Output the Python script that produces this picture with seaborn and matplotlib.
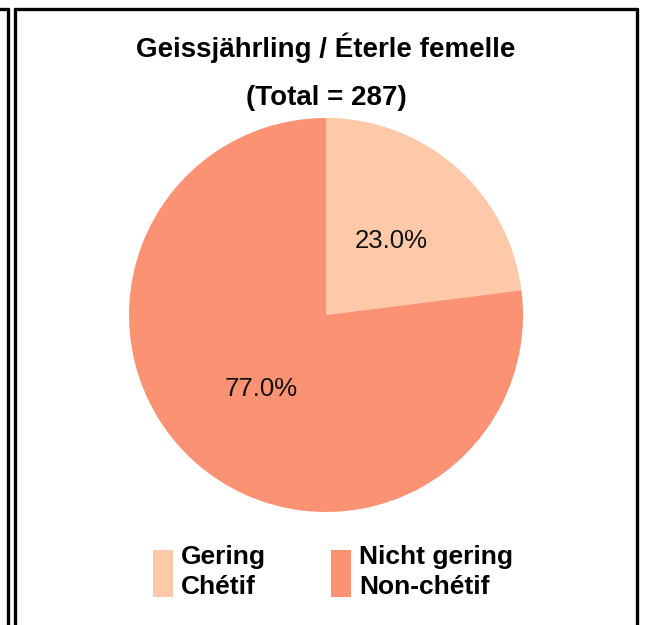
import matplotlib
matplotlib.use('Agg')
import matplotlib.pyplot as plt
import seaborn as sns
from matplotlib.patches import Patch
from matplotlib.lines import Line2D

# 数据
categories = ['Gering\nChétif', 'Nicht gering\nNon-chétif']
shares = [23.0, 77.0]
colors = ['#FDC9A8', '#FC9274']
title_main = 'Geissjährling / Éterle femelle'
title_total = '(Total = 287)'

sns.set_theme(style='white')
plt.rcParams['font.family'] = ['Liberation Sans', 'DejaVu Sans']
plt.rcParams['text.color'] = 'black'

W, H = 646, 625
fig = plt.figure(figsize=(W / 100, H / 100), dpi=100)
fig.patch.set_facecolor('white')

# 饼图
ax = fig.add_axes([129 / W, (H - 512) / H, 394 / W, 394 / H])
ax.pie(shares, colors=colors, startangle=90, counterclock=False,
       autopct='%1.1f%%', pctdistance=0.5,
       textprops={'fontsize': 18.5, 'color': '#111111'},
       wedgeprops={'linewidth': 0})
ax.set_xlim(-1, 1)
ax.set_ylim(-1, 1)
ax.set_aspect('equal')
ax.axis('off')

# 标题
fig.text(326 / W, 1 - 48 / H, title_main, ha='center', va='center',
         fontsize=20, fontweight='bold', color='black')
fig.text(326 / W, 1 - 98 / H, title_total, ha='center', va='center',
         fontsize=20, fontweight='bold', color='black')

# 图例
handles = [Patch(facecolor=c, edgecolor='none') for c in colors]
leg = fig.legend(handles, categories, loc='center', bbox_to_anchor=(333 / W, 1 - 572 / H),
                 ncol=2, frameon=False, handlelength=0.76, handleheight=2.4,
                 handletextpad=0.3, columnspacing=2.45,
                 prop={'weight': 'bold', 'size': 19})
for t in leg.get_texts():
    t.set_linespacing(1.32)
    t.set_color('black')

# 边框
def px_line(x0, y0, x1, y1):
    fig.add_artist(Line2D([x0 / W, x1 / W], [1 - y0 / H, 1 - y1 / H],
                          transform=fig.transFigure, color='black', linewidth=2.4))

px_line(14.5, 8.5, 637, 8.5)
px_line(14.5, 8.5, 14.5, H)
px_line(637, 8.5, 637, H)
px_line(0, 8.5, 7.5, 8.5)
px_line(7.5, 8.5, 7.5, H)

fig.savefig('out.png', dpi=100, facecolor='white')
